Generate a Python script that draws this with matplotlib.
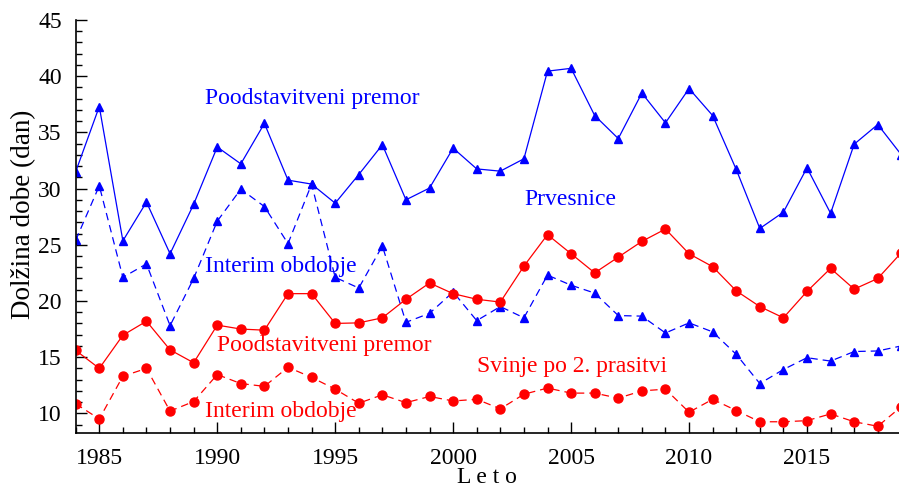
import numpy as np
import matplotlib.pyplot as plt

years = list(range(1984, 2020))

# Prvesnice (gilts)
prv_premor = [31.5, 37.3, 25.35, 28.8, 24.2, 28.6, 33.7, 32.2, 35.8, 30.75, 30.4, 28.7,
              31.25, 33.9, 29.0, 30.05, 33.6, 31.75, 31.55, 32.65, 40.45, 40.7, 36.5, 34.45,
              38.5, 35.85, 38.9, 36.5, 31.7, 26.45, 27.9, 31.85, 27.8, 33.95, 35.7, 33.0]
prv_interim = [25.4, 30.25, 22.1, 23.3, 17.8, 22.0, 27.1, 29.95, 28.4, 25.1, 30.4, 22.1,
               21.15, 24.9, 18.1, 18.9, 20.8, 18.25, 19.5, 18.5, 22.3, 21.4, 20.7, 18.7,
               18.65, 17.15, 18.05, 17.25, 15.25, 12.65, 13.9, 14.95, 14.65, 15.5, 15.55, 16.0]

# Svinje po 2. prasitvi (sows)
sv_premor = [15.6, 14.0, 16.95, 18.2, 15.65, 14.5, 17.85, 17.5, 17.4, 20.65, 20.65, 18.0,
             18.05, 18.5, 20.15, 21.6, 20.65, 20.15, 19.9, 23.1, 25.9, 24.2, 22.5, 23.9,
             25.3, 26.4, 24.2, 23.05, 20.9, 19.5, 18.5, 20.85, 22.9, 21.05, 22.0, 24.3]
sv_interim = [10.85, 9.5, 13.3, 14.0, 10.2, 11.05, 13.45, 12.65, 12.4, 14.1, 13.2, 12.15,
              10.9, 11.65, 10.95, 11.5, 11.1, 11.25, 10.4, 11.7, 12.25, 11.8, 11.8, 11.35,
              12.0, 12.15, 10.1, 11.25, 10.25, 9.25, 9.25, 9.35, 9.95, 9.25, 8.85, 10.6]

plt.rcParams['font.family'] = ['Liberation Serif', 'DejaVu Serif']

fig = plt.figure(figsize=(8.99, 4.88), dpi=100)
ax = fig.add_axes([0.0842, 0.1127, 0.9158, 0.8463])

blue = '#0000ff'
red = '#ff0000'
ax.plot(years, prv_premor, '-', color=blue, lw=0.9, marker='^', ms=6)
ax.plot(years, prv_interim, '--', color=blue, lw=0.9, marker='^', ms=6, dashes=(6, 4))
ax.plot(years, sv_premor, '-', color=red, lw=0.9, marker='o', ms=6.5)
ax.plot(years, sv_interim, '--', color=red, lw=0.9, marker='o', ms=6.5, dashes=(6, 4))

ax.text(1989.5, 38.0, 'Poodstavitveni premor', color=blue, fontsize=17, va='center')
ax.text(2003.0, 29.0, 'Prvesnice', color=blue, fontsize=17, va='center')
ax.text(1989.5, 23.1, 'Interim obdobje', color=blue, fontsize=17, va='center')
ax.text(1990.0, 16.05, 'Poodstavitveni premor', color=red, fontsize=17, va='center')
ax.text(2001.0, 14.2, 'Svinje po 2. prasitvi', color=red, fontsize=17, va='center')
ax.text(1989.5, 10.2, 'Interim obdobje', color=red, fontsize=17, va='center')

ax.set_xlim(1984, 2018.9)
ax.set_ylim(8.25, 45)
ax.set_xticks(range(1985, 2019, 5))
ax.set_xticks(range(1984, 2019), minor=True)
ax.set_yticks(range(10, 46, 5))
ax.set_yticks(range(9, 46), minor=True)
ax.tick_params(which='both', direction='in', labelsize=17, width=1)
ax.tick_params(which='major', length=8)
ax.tick_params(which='minor', length=4)
ax.tick_params(axis='y', pad=10)
ax.tick_params(axis='x', pad=11)

for s in ['top', 'right']:
    ax.spines[s].set_visible(False)
ax.spines['left'].set_linewidth(1.2)
ax.spines['bottom'].set_linewidth(1.2)

ax.set_xlabel('L e t o', fontsize=17)
ax.set_ylabel('Dolžina dobe (dan)', fontsize=19.5)
ax.yaxis.set_label_coords(-0.048, 0.53)
ax.xaxis.set_label_coords(0.5, -0.082)

fig.savefig('out.png', dpi=100)
